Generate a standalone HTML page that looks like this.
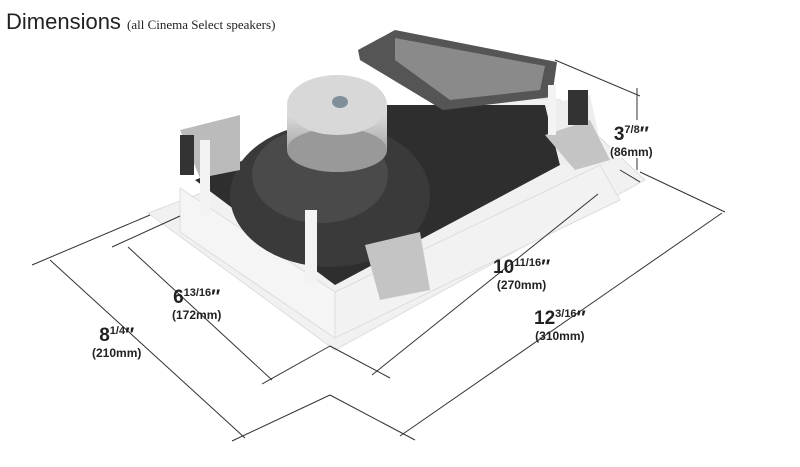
<!DOCTYPE html>
<html><head><style>
html,body{margin:0;padding:0;background:#fff;}
body{width:800px;height:467px;overflow:hidden;position:relative;font-family:"Liberation Sans",sans-serif;}
.t{position:absolute;font-weight:bold;color:#222;text-align:center;line-height:1;}
.big{font-size:19px}.mm{font-size:12px;margin-top:2px}
sup{font-size:11px;vertical-align:7px}
</style></head><body>
<div style="position:absolute;left:6px;top:9px;font-size:22px;color:#222;">Dimensions <span style="font-family:'Liberation Serif',serif;font-size:13px;">(all Cinema Select speakers)</span></div>
<svg width="800" height="467" style="position:absolute;left:0;top:0">
<defs>
<linearGradient id="g1" x1="0" y1="0" x2="0" y2="1"><stop offset="0" stop-color="#e8e8e8"/><stop offset="1" stop-color="#a8a8a8"/></linearGradient>
</defs>
<!-- flange plate -->
<polygon points="148,213 335,350 645,180 560,100 470,92" fill="#f1f1f1" stroke="#ddd"/>
<!-- interior -->
<polygon points="195,180 335,285 560,165 545,105 380,105" fill="#2e2e2e"/>
<!-- frame faces -->
<polygon points="180,188 335,292 335,338 180,232" fill="#f5f5f5" stroke="#ddd"/>
<polygon points="335,292 600,165 620,200 335,338" fill="#f2f2f2" stroke="#ddd"/>
<polygon points="560,165 545,105 590,95 605,165" fill="#eee"/>
<!-- woofer -->
<ellipse cx="330" cy="195" rx="100" ry="72" fill="#3a3a3a"/>
<ellipse cx="320" cy="175" rx="68" ry="48" fill="#4a4a4a"/>
<!-- magnet -->
<rect x="287" y="105" width="100" height="45" fill="url(#g1)"/>
<ellipse cx="337" cy="150" rx="50" ry="22" fill="#999"/>
<ellipse cx="337" cy="105" rx="50" ry="30" fill="#d8d8d8"/>
<ellipse cx="340" cy="102" rx="8" ry="6" fill="#7f8f99"/>
<!-- heatsink -->
<polygon points="358,50 395,30 557,62 552,97 443,110 360,60" fill="#555"/>
<polygon points="395,38 545,66 540,90 450,100 395,60" fill="#8a8a8a"/>
<!-- clamps -->
<polygon points="180,130 240,115 240,170 200,178" fill="#bbb"/>
<polygon points="365,245 420,232 430,290 380,300" fill="#c4c4c4"/>
<polygon points="545,135 590,120 610,160 575,170" fill="#c4c4c4"/>
<rect x="180" y="135" width="14" height="40" fill="#333"/>
<rect x="200" y="140" width="10" height="75" fill="#f3f3f3"/>
<rect x="305" y="210" width="12" height="75" fill="#f3f3f3"/>
<rect x="568" y="90" width="20" height="35" fill="#333"/>
<rect x="548" y="85" width="8" height="50" fill="#f3f3f3"/>
<g stroke="#333" stroke-width="1" fill="none">
<line x1="32" y1="265" x2="150" y2="215"/><line x1="232" y1="441" x2="330" y2="395"/>
<line x1="50" y1="260" x2="245" y2="438"/>
<line x1="112" y1="247" x2="180" y2="216"/><line x1="262" y1="384" x2="330" y2="346"/>
<line x1="128" y1="247" x2="272" y2="380"/>
<line x1="330" y1="346" x2="390" y2="378"/><line x1="372" y1="375" x2="598" y2="194"/>
<line x1="330" y1="395" x2="415" y2="440"/><line x1="400" y1="436" x2="722" y2="213"/>
<line x1="640" y1="172" x2="725" y2="212"/><line x1="620" y1="170" x2="640" y2="182"/>
<line x1="555" y1="60" x2="640" y2="96"/><line x1="637" y1="88" x2="637" y2="120"/><line x1="637" y1="150" x2="637" y2="170"/>
</g>
</svg>
<div class="t" style="left:92px;top:326px"><div class="big">8<sup>1/4</sup>″</div><div class="mm">(210mm)</div></div>
<div class="t" style="left:172px;top:288px"><div class="big">6<sup>13/16</sup>″</div><div class="mm">(172mm)</div></div>
<div class="t" style="left:493px;top:258px"><div class="big">10<sup>11/16</sup>″</div><div class="mm">(270mm)</div></div>
<div class="t" style="left:534px;top:309px"><div class="big">12<sup>3/16</sup>″</div><div class="mm">(310mm)</div></div>
<div class="t" style="left:610px;top:125px;background:#fff"><div class="big">3<sup>7/8</sup>″</div><div class="mm">(86mm)</div></div>
</body></html>
